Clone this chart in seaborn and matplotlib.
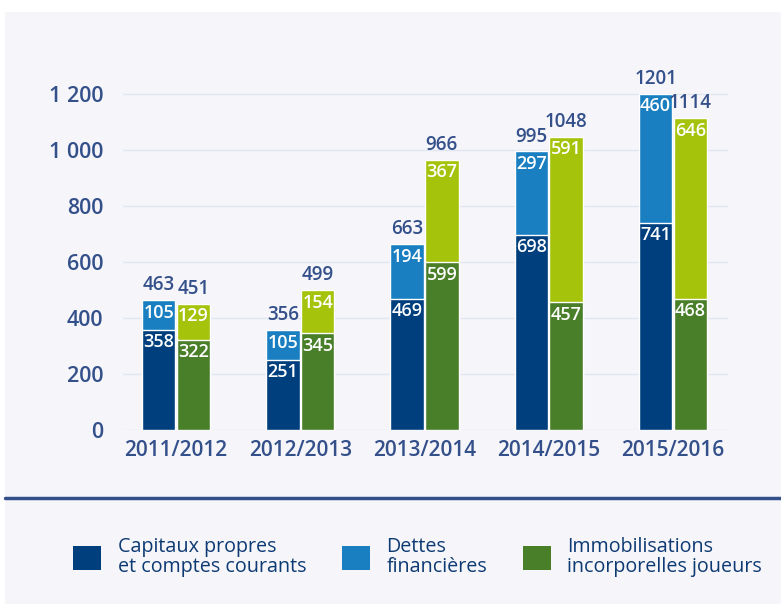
import matplotlib
matplotlib.use("Agg")
import matplotlib.pyplot as plt
import seaborn as sns
import pandas as pd
from matplotlib.patches import Patch, Rectangle
from matplotlib.lines import Line2D

# --- data ---
years = ["2011/2012", "2012/2013", "2013/2014", "2014/2015", "2015/2016"]
capitaux = [358, 251, 469, 698, 741]
dettes = [105, 105, 194, 297, 460]
immo_base = [322, 345, 599, 457, 468]
immo_top = [129, 154, 367, 591, 646]
yticks = [0, 200, 400, 600, 800, 1000, 1200]
ytick_labels = ["0", "200", "400", "600", "800", "1 000", "1 200"]
legend_labels = ["Capitaux propres\net comptes courants", "Dettes\nfinancières",
                 "Immobilisations\nincorporelles joueurs"]

NAVY = "#003f7d"
BLUE = "#1a7fc1"
GREEN = "#4a7f2a"
LIME = "#a5c30a"
TEXT = "#34508a"
BG = "#f5f5fa"

sns.set_style("white")
plt.rcParams["font.family"] = ["Open Sans", "DejaVu Sans"]

W, H = 781, 604
fig = plt.figure(figsize=(W / 100, H / 100), dpi=100, facecolor="white")

# background panel + separator
fig.patches.append(Rectangle((5 / W, 0), 1, 1 - 12 / H, transform=fig.transFigure,
                             facecolor=BG, edgecolor="none", zorder=-10))
fig.lines.append(Line2D([5 / W, 1], [1 - 498 / H] * 2, transform=fig.transFigure,
                        color=TEXT, lw=2.5, zorder=-5))

# axes: y=0 at px 430, 0.28 px per unit
ymax = 1280
top_px = 430 - ymax * 0.28
ax = fig.add_axes([123 / W, 1 - 430 / H, (728 - 123) / W, (430 - top_px) / H])
ax.set_facecolor("none")

df = pd.DataFrame({
    "year": years * 2,
    "side": ["left"] * 5 + ["right"] * 5,
    "total": [c + d for c, d in zip(capitaux, dettes)] + [b + t for b, t in zip(immo_base, immo_top)],
    "base": capitaux + immo_base,
})

bar_kw = dict(width=0.56, gap=0.04, edgecolor="white", linewidth=1, saturation=1,
              legend=False, ax=ax)
sns.barplot(data=df, x="year", y="total", hue="side", palette=[BLUE, LIME], **bar_kw)
sns.barplot(data=df, x="year", y="base", hue="side", palette=[NAVY, GREEN], **bar_kw)

# labels
tops = list(df["total"])
seg_top = dettes + immo_top
seg_base = capitaux + immo_base
top_bars = list(ax.containers[0]) + list(ax.containers[1])
base_bars = list(ax.containers[2]) + list(ax.containers[3])
lab_kw = dict(textcoords="offset points", ha="center", fontweight="semibold")
for bar, tot, seg in zip(top_bars, tops, seg_top):
    xc = bar.get_x() + bar.get_width() / 2
    ax.annotate(str(tot), (xc, tot), xytext=(0, 3.5), va="bottom", color=TEXT,
                fontsize=13.5, **lab_kw)
    ax.annotate(str(seg), (xc, tot), xytext=(0, -2.5), va="top", color="white",
                fontsize=13, **lab_kw)
for bar, b in zip(base_bars, seg_base):
    xc = bar.get_x() + bar.get_width() / 2
    ax.annotate(str(b), (xc, b), xytext=(0, -2.5), va="top", color="white",
                fontsize=13, **lab_kw)

# axis styling
ax.set_xlim(-0.4266, 4.443)
ax.set_ylim(0, ymax)
ax.set_yticks(yticks)
ax.set_yticklabels(ytick_labels)
ax.yaxis.grid(True, color="#e0e6f2", lw=1)
ax.set_axisbelow(True)
for s in ax.spines.values():
    s.set_visible(False)
ax.tick_params(axis="y", length=0, pad=14, labelsize=15.5, labelcolor=TEXT)
ax.tick_params(axis="x", length=0, pad=7, labelsize=15, labelcolor=TEXT)
for lab in ax.get_xticklabels() + ax.get_yticklabels():
    lab.set_fontweight("semibold")
ax.set_xlabel("")
ax.set_ylabel("")

# legend
handles = [Patch(facecolor=c, edgecolor="none") for c in [NAVY, BLUE, GREEN]]
leg = fig.legend(handles, legend_labels, ncol=3, loc="center left",
                 bbox_to_anchor=(55 / W, 1 - 557 / H), frameon=False,
                 prop={"size": 14.2, "weight": "medium"}, handlelength=1.42, handleheight=1.47,
                 handletextpad=0.85, columnspacing=1.8, labelcolor="#0d3a73",
                 labelspacing=0.3)
for t in leg.get_texts():
    t.set_linespacing(1.0)

fig.savefig("out.png", dpi=100, facecolor="white")
